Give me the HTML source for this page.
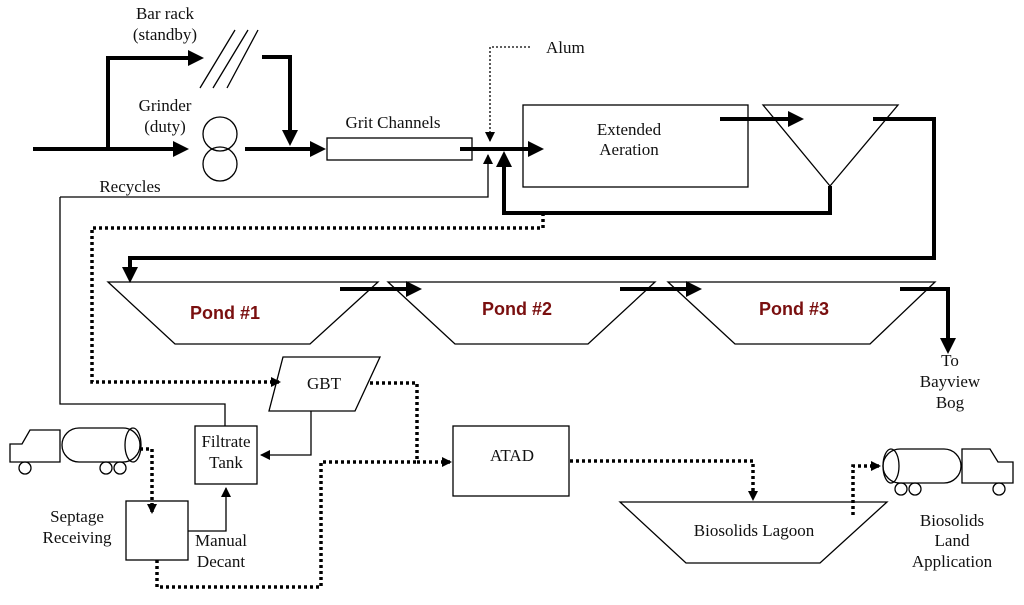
<!DOCTYPE html>
<html><head><meta charset="utf-8"><style>
body{margin:0;background:#fff}
svg text{font-family:"Liberation Serif",serif;font-size:17px;fill:#111}
.p{font-family:"Liberation Sans",sans-serif;font-weight:bold;font-size:18px;fill:#7a0f0f}
</style></head><body>
<svg width="1024" height="600" xmlns="http://www.w3.org/2000/svg">
<defs>
<marker id="a" markerWidth="4" markerHeight="4" refX="3" refY="2" orient="auto" markerUnits="strokeWidth"><path d="M0,0L4,2L0,4z" fill="#000"/></marker>
<marker id="s" markerWidth="10" markerHeight="10" refX="9" refY="5" orient="auto" markerUnits="userSpaceOnUse"><path d="M0,0L10,5L0,10z" fill="#000"/></marker>
</defs>
<g fill="none" stroke="#000">
<g stroke-width="4">
<path d="M33,149H185" marker-end="url(#a)"/>
<path d="M108,149V58H200" marker-end="url(#a)"/>
<path d="M262,57H290V142" marker-end="url(#a)"/>
<path d="M245,149H322" marker-end="url(#a)"/>
<path d="M460,149H540" marker-end="url(#a)"/>
<path d="M720,119H800" marker-end="url(#a)"/>
<path d="M830,186V213H504V155" marker-end="url(#a)"/>
<path d="M873,119H934V258H130V279" marker-end="url(#a)"/>
<path d="M340,289H418" marker-end="url(#a)"/>
<path d="M620,289H698" marker-end="url(#a)"/>
<path d="M900,289H948V350" marker-end="url(#a)"/>
</g>
<g stroke-width="1.3">
<path d="M200,88L235,30M213,88L248,30M227,88L258,30"/>
<circle cx="220" cy="134" r="17"/><circle cx="220" cy="164" r="17"/>
<rect x="327" y="138" width="145" height="22"/>
<rect x="523" y="105" width="225" height="82"/>
<path d="M763,105H898L830,186z"/>
<path d="M108,282H378L310,344H175z"/>
<path d="M388,282H655L588,344H455z"/>
<path d="M668,282H935L870,344H735z"/>
<path d="M283,357H380L355,411H269z"/>
<rect x="195" y="426" width="62" height="58"/>
<rect x="126" y="501" width="62" height="59"/>
<rect x="453" y="426" width="116" height="70"/>
<path d="M620,502H887L820,563H686z"/>
<path d="M60,197H488V155" marker-end="url(#s)"/>
<path d="M60,197V404H225V426"/>
<path d="M311,411V455H261" marker-end="url(#s)"/>
<path d="M188,531H226V488" marker-end="url(#s)"/>
<path d="M10,462V444H22L30,430H60V462z"/>
<rect x="62" y="428" width="78" height="34" rx="17"/>
<ellipse cx="133" cy="445" rx="8" ry="17"/>
<circle cx="25" cy="468" r="6"/><circle cx="106" cy="468" r="6"/><circle cx="120" cy="468" r="6"/>
<rect x="883" y="449" width="78" height="34" rx="17"/>
<ellipse cx="891" cy="466" rx="8" ry="17"/>
<path d="M962,483V449H990L998,462H1013V483z"/>
<circle cx="901" cy="489" r="6"/><circle cx="915" cy="489" r="6"/><circle cx="999" cy="489" r="6"/>
</g>
<path d="M530,47H490V141" stroke-width="1.3" stroke-dasharray="2,2" marker-end="url(#s)"/>
<g stroke-width="3.5" stroke-dasharray="3,3">
<path d="M543,213V228H92V382H280" marker-end="url(#s)"/>
<path d="M370,383H417V462H451" marker-end="url(#s)"/>
<path d="M157,560V587H321V462H417"/>
<path d="M140,449H152V513" marker-end="url(#s)"/>
<path d="M570,461H753V500" marker-end="url(#s)"/>
<path d="M853,515V466H880" marker-end="url(#s)"/>
</g>
</g>
<text x="165" y="19" text-anchor="middle">Bar rack</text>
<text x="165" y="40" text-anchor="middle">(standby)</text>
<text x="165" y="111" text-anchor="middle">Grinder</text>
<text x="165" y="132" text-anchor="middle">(duty)</text>
<text x="393" y="128" text-anchor="middle">Grit Channels</text>
<text x="546" y="53">Alum</text>
<text x="130" y="192" text-anchor="middle">Recycles</text>
<text x="629" y="135" text-anchor="middle">Extended</text>
<text x="629" y="155" text-anchor="middle">Aeration</text>
<text class="p" x="225" y="319" text-anchor="middle">Pond #1</text>
<text class="p" x="517" y="315" text-anchor="middle">Pond #2</text>
<text class="p" x="794" y="315" text-anchor="middle">Pond #3</text>
<text x="950" y="366" text-anchor="middle">To</text>
<text x="950" y="387" text-anchor="middle">Bayview</text>
<text x="950" y="408" text-anchor="middle">Bog</text>
<text x="324" y="389" text-anchor="middle">GBT</text>
<text x="226" y="447" text-anchor="middle">Filtrate</text>
<text x="226" y="468" text-anchor="middle">Tank</text>
<text x="512" y="461" text-anchor="middle">ATAD</text>
<text x="77" y="522" text-anchor="middle">Septage</text>
<text x="77" y="543" text-anchor="middle">Receiving</text>
<text x="221" y="546" text-anchor="middle">Manual</text>
<text x="221" y="567" text-anchor="middle">Decant</text>
<text x="754" y="536" text-anchor="middle">Biosolids Lagoon</text>
<text x="952" y="526" text-anchor="middle">Biosolids</text>
<text x="952" y="546" text-anchor="middle">Land</text>
<text x="952" y="567" text-anchor="middle">Application</text>
</svg>
</body></html>
